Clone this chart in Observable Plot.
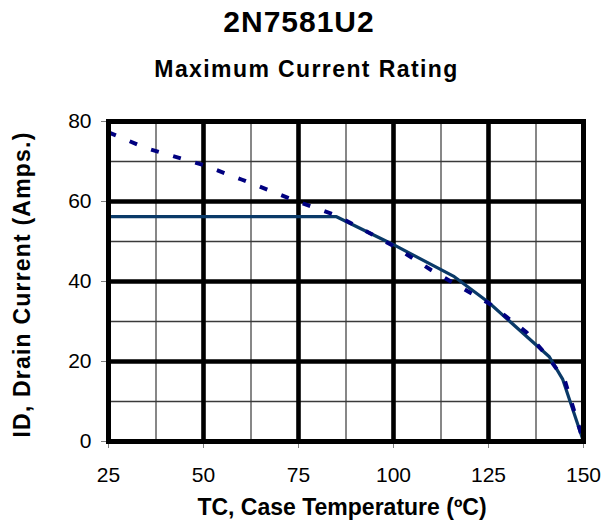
<!DOCTYPE html>
<html>
<head>
<meta charset="utf-8">
<script src="https://cdn.jsdelivr.net/npm/d3@7"></script>
<script src="https://cdn.jsdelivr.net/npm/@observablehq/plot@0.6"></script>
<style>
  html, body { margin: 0; padding: 0; background: #fff; }
  body { width: 613px; height: 529px; overflow: hidden; font-family: "Liberation Sans", Arial, sans-serif; }
  #title { height: 43px; line-height: 43px; font-size: 30px; font-weight: bold; text-align: center; padding-right: 15px; letter-spacing: 1px; color: #000; }
  #subtitle { height: 53px; line-height: 53px; font-size: 23px; font-weight: bold; text-align: center; letter-spacing: 1.4px; color: #000; }
  #chart svg { display: block; }
</style>
</head>
<body>
<div id="title">2N7581U2</div>
<div id="subtitle">Maximum Current Rating</div>
<div id="chart"></div>
<script>
// Data
const theoryTemp    = [25, 35, 50, 60, 75, 85, 100, 110, 125, 135, 140, 145, 150];
const theoryCurrent = [77.3, 73.3, 69.1, 65.5, 59.9, 56.5, 48.9, 42.8, 34.6, 27.3, 21.9, 15.5, 0];

const ratedTemp     = [25, 85, 100, 116, 125, 141, 144.5, 150];
const ratedCurrent  = [56.2, 56.2, 49.2, 41.2, 34.8, 21.2, 15.6, 0];

const xTicks = [25, 50, 75, 100, 125, 150];
const yTicks = [0, 20, 40, 60, 80];
const xMajorGrid = [50, 75, 100, 125];
const xMinorGrid = [37.5, 62.5, 87.5, 112.5, 137.5];
const yMajorGrid = [20, 40, 60];
const yMinorGrid = [10, 30, 50, 70];

const xLabel = "TC, Case Temperature (ºC)";
const yLabel = "ID, Drain Current (Amps.)";

const theory = theoryTemp.map((t, i) => ({t, i: theoryCurrent[i]}));
const rated = ratedTemp.map((t, i) => ({t, i: ratedCurrent[i]}));

const chart = Plot.plot({
  width: 613,
  height: 433,
  marginLeft: 108,
  marginRight: 30,
  marginTop: 25,
  marginBottom: 88,
  style: { fontFamily: "'Liberation Sans', Arial, sans-serif", background: "#fff", overflow: "visible", color: "#000" },
  x: { domain: [25, 150], nice: false },
  y: { domain: [0, 80], nice: false },
  marks: [
    Plot.ruleX(xMinorGrid, { stroke: "#7a7a7a", strokeWidth: 1.8 }),
    Plot.ruleY(yMinorGrid, { stroke: "#3a3a3a", strokeWidth: 1.4 }),
    Plot.ruleX(xMajorGrid, { stroke: "#000", strokeWidth: 4.6 }),
    Plot.ruleY(yMajorGrid, { stroke: "#000", strokeWidth: 4.6 }),
    Plot.axisX({ ticks: xTicks, tickSize: 7, tickPadding: 19, fontSize: 21, stroke: "#808080", fill: "#000", label: null, tickFormat: d => String(d) }),
    Plot.axisY({ ticks: yTicks, tickSize: 7, tickPadding: 10, fontSize: 21, stroke: "#808080", fill: "#000", label: null, tickFormat: d => String(d) }),
    Plot.line(rated, { x: "t", y: "i", stroke: "#0a3a68", strokeWidth: 3.2 }),
    Plot.line(theory, { x: "t", y: "i", stroke: "#000080", strokeWidth: 4, strokeDasharray: "8,15", strokeLinecap: "butt" }),
    Plot.frame({ stroke: "#000", strokeWidth: 5 }),
    Plot.text([xLabel], { frameAnchor: "bottom", textAnchor: "middle", dx: -4, dy: 66, fontSize: 23, fontWeight: "bold", fill: "#000", lineAnchor: "middle" }),
    Plot.text([yLabel], { frameAnchor: "left", textAnchor: "middle", dx: -86, dy: 3, rotate: -90, fontSize: 23, fontWeight: "bold", fill: "#000", lineAnchor: "middle" })
  ]
});
d3.select(chart).selectAll("text").filter(function() { return this.textContent === yLabel; })
  .style("letter-spacing", "1.2px");
document.getElementById("chart").appendChild(chart);
</script>
</body>
</html>
